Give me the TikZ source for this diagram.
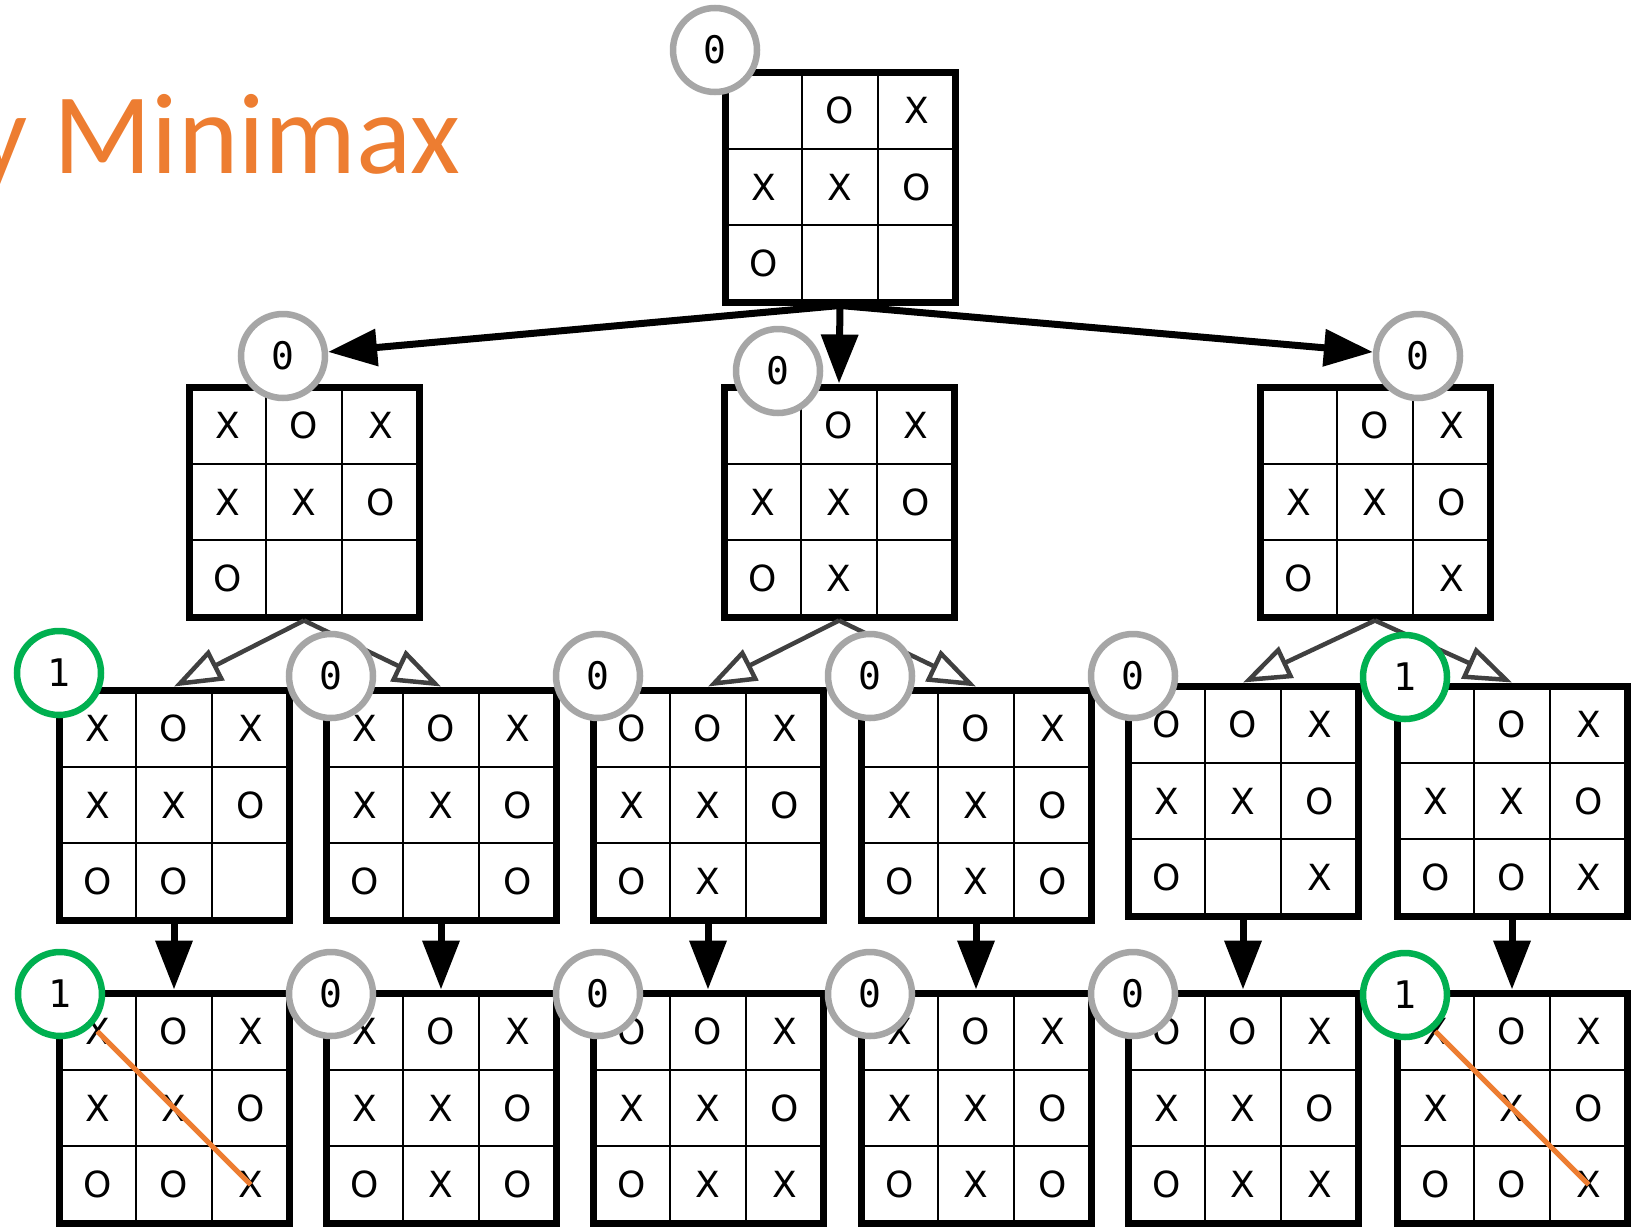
\documentclass[tikz,border=0pt]{standalone}
\usepackage{fontspec}
\setmainfont{DejaVu Sans}
\newfontfamily\titlefont{Carlito}
\newfontfamily\scorefont{DejaVu Sans Mono}
\usetikzlibrary{arrows.meta}

\definecolor{minimaxorange}{RGB}{237,125,49}
\definecolor{drawgray}{RGB}{166,166,166}
\definecolor{wingreen}{RGB}{0,176,80}
\definecolor{replygray}{RGB}{64,64,64}

\tikzset{
  board/.style={draw, line width=7pt, minimum size=230pt, inner sep=0pt},
  cellmark/.style={inner sep=0pt, font=\fontsize{36}{36}\selectfont},
  score/.style={circle, draw=drawgray, fill=white, line width=6.5pt, minimum size=84pt,
    inner sep=0pt, font=\scorefont\fontsize{38}{38}\selectfont},
  win/.style={score, draw=wingreen},
  move/.style={line width=7pt, -{Triangle[length=49pt, width=36pt]}},
  reply/.style={draw=replygray, line width=4.5pt, -{Triangle[open, length=48pt, width=34pt]}},
  winline/.style={draw=minimaxorange, line width=5pt},
}

% board: name, top left corner, the nine cells row by row
\newcommand\tttboard[3]{%
  \begin{scope}[shift={#2}]
    \foreach \c [count=\i from 0] in {#3}
      \node[cellmark] (#1-\i) at ({mod(\i,3)*76.667+38.333},{int(\i/3)*76.667+38.333}) {\c};
    \draw[line width=2pt] (76.667,0) -- (76.667,230) (153.333,0) -- (153.333,230)
      (0,76.667) -- (230,76.667) (0,153.333) -- (230,153.333);
    \node[board] (#1) at (115,115) {};
  \end{scope}}

\begin{document}
\begin{tikzpicture}[x=1pt, y=-1pt]
\useasboundingbox (0,0) rectangle (1643,1226);
\clip (0,0) rectangle (1643,1226);

\node[anchor=base east, inner sep=0pt, text=minimaxorange,
  font=\titlefont\fontsize{115}{115}\selectfont] (title) at (461,173) {y Minimax};

% root
\tttboard{b0}{(725,72)}{{},O,X,X,X,O,O,{},{}}
% second level
\tttboard{b1a}{(189,387)}{X,O,X,X,X,O,O,{},{}}
\tttboard{b1b}{(724,387)}{{},O,X,X,X,O,O,X,{}}
\tttboard{b1c}{(1260,387)}{{},O,X,X,X,O,O,{},X}
% third level
\tttboard{b2a}{(59,690)}{X,O,X,X,X,O,O,O,{}}
\tttboard{b2b}{(326,690)}{X,O,X,X,X,O,O,{},O}
\tttboard{b2c}{(593,690)}{O,O,X,X,X,O,O,X,{}}
\tttboard{b2d}{(861,690)}{{},O,X,X,X,O,O,X,O}
\tttboard{b2e}{(1128,686)}{O,O,X,X,X,O,O,{},X}
\tttboard{b2f}{(1397,686)}{{},O,X,X,X,O,O,O,X}
% full boards
\tttboard{b3a}{(59,993)}{X,O,X,X,X,O,O,O,X}
\tttboard{b3b}{(326,993)}{X,O,X,X,X,O,O,X,O}
\tttboard{b3c}{(593,993)}{O,O,X,X,X,O,O,X,X}
\tttboard{b3d}{(861,993)}{X,O,X,X,X,O,O,X,O}
\tttboard{b3e}{(1128,993)}{O,O,X,X,X,O,O,X,X}
\tttboard{b3f}{(1397,993)}{X,O,X,X,X,O,O,O,X}

% three in a row
\draw[winline] (b3a-0.center) -- (b3a-8.center);
\draw[winline] (b3f-0.center) -- (b3f-8.center);

% scores
\node[score] (s0) at (715,50) {0};
\node[score] (s1a) at (283,356) {0};
\node[score] (s1b) at (778,371) {0};
\node[score] (s1c) at (1418,356) {0};

\draw[move] (b0.south) -- (s1a);
\draw[move] (b0.south) -- (b1b.north);
\draw[move] (b0.south) -- (s1c);

\draw[reply] (b1a.south) -- (b2a.north);
\draw[reply] (b1a.south) -- (b2b.north);
\draw[reply] (b1b.south) -- (b2c.north);
\draw[reply] (b1b.south) -- (b2d.north);
\draw[reply] (b1c.south) -- (b2e.north);
\draw[reply] (b1c.south) -- (b2f.north);

\foreach \p in {a,b,c,d,e,f}
  \draw[move] (b2\p.south) -- (b3\p.north);

\node[win] (s2a) at (59,673) {1};
\node[score] (s2b) at (331,676) {0};
\node[score] (s2c) at (598,676) {0};
\node[score] (s2d) at (870,676) {0};
\node[score] (s2e) at (1133,676) {0};
\node[win] (s2f) at (1405,677) {1};

\node[win] (s3a) at (60,994) {1};
\node[score] (s3b) at (331,994) {0};
\node[score] (s3c) at (598,994) {0};
\node[score] (s3d) at (870,994) {0};
\node[score] (s3e) at (1133,994) {0};
\node[win] (s3f) at (1405,995) {1};
\end{tikzpicture}
\end{document}
